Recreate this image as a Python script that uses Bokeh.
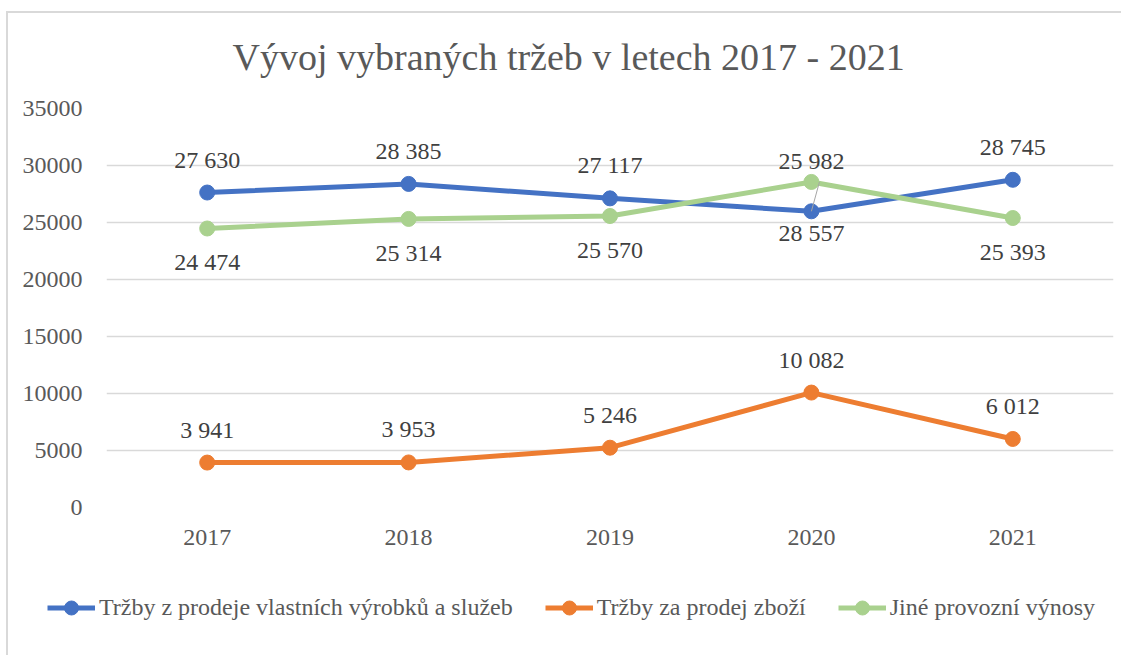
from bokeh.plotting import figure
from bokeh.layouts import column
from bokeh.models import (Range1d, SingleIntervalTicker, Legend, LegendItem, Label,
                          ColumnDataSource, BasicTickFormatter)
from bokeh.transform import dodge
from bokeh.core.properties import value
from bokeh.embed import file_html
from bokeh.resources import INLINE

# ---- data ----
years = ["2017", "2018", "2019", "2020", "2021"]
vlastni = [27630, 28385, 27117, 25982, 28745]
zbozi = [3941, 3953, 5246, 10082, 6012]
jine = [24474, 25314, 25570, 28557, 25393]
names = ["Tržby z prodeje vlastních výrobků a služeb", "Tržby za prodej zboží", "Jiné provozní výnosy"]
title_text = "Vývoj vybraných tržeb v letech 2017 - 2021"

FONT = "Liberation Serif, Times New Roman, Tinos, DejaVu Serif, serif"
colors = ["#4472C4", "#ED7D31", "#A9D18E"]

def fmt(v):
    return f"{v:,}".replace(",", " ")

def strip(height):
    f = figure(width=1113, height=height, x_range=Range1d(0, 1), y_range=Range1d(-2, -1),
               output_backend="svg", toolbar_location=None,
               x_axis_location=None, y_axis_location=None,
               min_border_left=0, min_border_right=0, min_border_top=0, min_border_bottom=0)
    f.frame_align = False
    f.grid.visible = False
    f.outline_line_color = None
    return f

# ---- title strip ----
t = strip(80)
t.add_layout(Label(x=224, y=37, x_units="screen", y_units="screen", text=title_text,
                   text_font=FONT, text_font_size="38px", text_color="#595959",
                   text_align="left", text_baseline="alphabetic"))

# ---- main chart ----
p = figure(width=1113, height=464, x_range=years, y_range=Range1d(0, 35000),
           output_backend="svg", toolbar_location=None,
           min_border_left=98, min_border_right=8, min_border_top=15, min_border_bottom=50)
p.frame_align = False
p.outline_line_color = None

p.xgrid.grid_line_color = None
p.ygrid.grid_line_color = "#d9d9d9"
p.ygrid.grid_line_width = 1.5
p.yaxis.ticker = SingleIntervalTicker(interval=5000)
p.yaxis.formatter = BasicTickFormatter(use_scientific=False)
for ax in (p.xaxis[0], p.yaxis[0]):
    ax.axis_line_color = None
    ax.major_tick_line_color = None
    ax.minor_tick_line_color = None
    ax.major_tick_in = 0
    ax.major_tick_out = 0
    ax.major_label_text_font = FONT
    ax.major_label_text_font_size = "24px"
    ax.major_label_text_color = "#595959"
p.yaxis.major_label_standoff = 20
p.xaxis.major_label_standoff = 22

series = [vlastni, zbozi, jine]
for name, vals, col in zip(names, series, colors):
    src = ColumnDataSource(dict(x=years, y=vals))
    p.line("x", "y", source=src, line_color=col, line_width=5)
    p.scatter("x", "y", source=src, size=15, fill_color=col, line_color=col)

# where the two upper series cross, their labels are swapped and drawn closer,
# with a thin leader line (as in the original)
crossed = [a < b for a, b in zip(vlastni, jine)]
cross = [i for i, c in enumerate(crossed) if c]
lsrc = ColumnDataSource(dict(x=[years[i] for i in cross],
                             y0=[jine[i] for i in cross],
                             y1=[vlastni[i] for i in cross]))
p.segment(x0=dodge("x", 0.04, range=p.x_range), y0="y0", x1="x", y1="y1",
          source=lsrc, line_color="#a6a6a6", line_width=1)

# data labels
top_anchor = [max(a, b) for a, b in zip(vlastni, jine)]
bot_anchor = [min(a, b) for a, b in zip(vlastni, jine)]
lab_sets = [
    (top_anchor, [fmt(v) for v in vlastni], [-21 if c else -33 for c in crossed]),
    (list(zbozi), [fmt(v) for v in zbozi], [-33] * len(zbozi)),
    (bot_anchor, [fmt(v) for v in jine], [22 if c else 34 for c in crossed]),
]
for ys, txt, offs in lab_sets:
    s = ColumnDataSource(dict(x=years, y=ys, t=txt, off=offs))
    p.text("x", "y", text="t", source=s, y_offset="off", text_align="center",
           text_baseline="middle", text_font=value(FONT), text_font_size="24px",
           text_color="#404040")

# ---- legend strip (spans the whole width); its series lie outside its
# visible range, only their legend glyphs show ----
lg = strip(98)
items = []
for name, vals, col in zip(names, series, colors):
    r1 = lg.line(x=list(range(len(vals))), y=vals, line_color=col, line_width=5)
    r2 = lg.scatter(x=list(range(len(vals))), y=vals, size=15, fill_color=col, line_color=col)
    items.append(LegendItem(label=name, renderers=[r1, r2]))
legend = Legend(items=items, orientation="horizontal", location=(39, 30),
                glyph_width=48, glyph_height=35, label_height=35, label_standoff=4,
                spacing=32, padding=0, margin=0, border_line_color=None,
                background_fill_alpha=0,
                label_text_font=FONT, label_text_font_size="24px",
                label_text_color="#595959")
lg.add_layout(legend, "center")

layout = column(t, p, lg, spacing=0,
                styles={"margin-left": "6px", "margin-top": "11px",
                        "border-left": "2px solid #d9d9d9", "border-top": "2px solid #d9d9d9"})

open("out.html", "w").write(file_html(layout, INLINE))
